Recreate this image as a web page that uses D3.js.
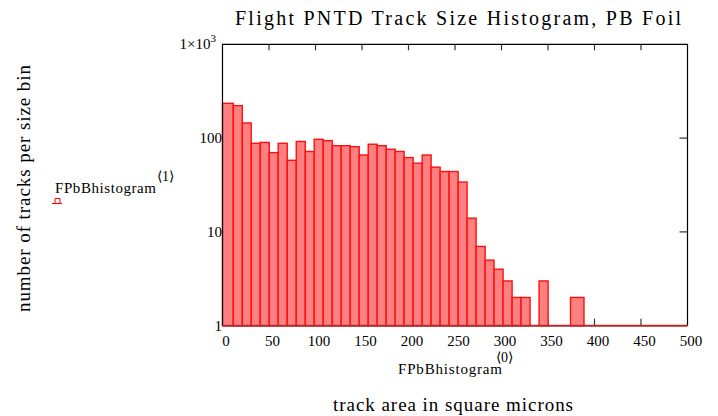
<!DOCTYPE html>
<html>
<head>
<meta charset="utf-8">
<script src="https://cdn.jsdelivr.net/npm/d3@7"></script>
<style>
  html, body { margin: 0; padding: 0; background: #fff; }
  svg { display: block; }
  text { font-family: "Liberation Serif", "Times New Roman", serif; fill: #000; }
</style>
</head>
<body>
<svg id="chart" width="718" height="416"></svg>
<script>
// Histogram bins: lower and upper edge (square microns) and track count per bin
const binLo = [0, 11.6, 21.3, 30.9, 40.6, 50.3, 59.9, 69.6, 79.3, 89.0,
  98.6, 108.3, 118.0, 127.6, 137.3, 147.0, 156.7, 166.3, 176.0, 185.7,
  195.3, 205.0, 214.7, 224.3, 234.0, 243.7, 253.4, 263.0, 272.7, 282.4,
  292.0, 301.7, 311.4, 321.0, 340.4, 374.2];
const binHi = [11.6, 21.3, 30.9, 40.6, 50.3, 59.9, 69.6, 79.3, 89.0, 98.6,
  108.3, 118.0, 127.6, 137.3, 147.0, 156.7, 166.3, 176.0, 185.7, 195.3,
  205.0, 214.7, 224.3, 234.0, 243.7, 253.4, 263.0, 272.7, 282.4, 292.0,
  301.7, 311.4, 321.0, 330.7, 350.1, 388.7];
const tracks = [235, 222, 145, 88, 90, 70, 88, 58, 92, 72,
  97, 94, 83, 83, 81, 66, 86, 83, 76, 72,
  62, 54, 66, 49, 44, 44, 34, 14, 7, 5,
  4, 3, 2, 2, 3, 2];

// Axis ticks
const xTicks = [0, 50, 100, 150, 200, 250, 300, 350, 400, 450, 500];
const yTicks = [1, 10, 100, 1000];
const yTickLabels = ["1", "10", "100", "1×10"];

const svg = d3.select("#chart");
const plotL = 222.5, plotR = 687.5, plotT = 44.3, plotB = 325.7;

const x = d3.scaleLinear().domain([0, 500]).range([plotL, plotR]);
const y = d3.scaleLog().domain([1, 1000]).range([plotB, plotT]);

// Title
svg.append("text")
  .attr("x", 458).attr("y", 25)
  .attr("text-anchor", "middle")
  .attr("textLength", 446).attr("lengthAdjust", "spacing")
  .style("font-size", "20px")
  .text("Flight PNTD Track Size Histogram, PB Foil");

// Y tick labels (drawn first so bars sit on top)
const yl = svg.append("g");
yTicks.forEach((t, i) => {
  const txt = yl.append("text")
    .attr("x", 222).attr("y", y(t) + 5)
    .attr("text-anchor", "end")
    .style("font-size", "15px")
    .text(yTickLabels[i]);
  if (t === 1000) {
    txt.attr("x", 216);
    txt.append("tspan").attr("dy", -7).style("font-size", "11px").text("3");
  }
});

// X axis labels via d3 axis
const xAxis = d3.axisBottom(x).tickValues(xTicks).tickSize(0).tickPadding(10)
  .tickFormat(d3.format("d"));
const gx = svg.append("g").attr("transform", `translate(0,${plotB})`).call(xAxis);
gx.select(".domain").remove();
gx.selectAll("text").style("font-size", "15px").attr("dx", 3)
  .style("font-family", "'Liberation Serif', 'Times New Roman', serif").attr("fill", "#000");

// Frame ticks
const ticks = svg.append("g").attr("stroke", "#333").attr("stroke-width", 1.2);
xTicks.slice(1, -1).forEach(t => {
  ticks.append("line").attr("x1", x(t)).attr("x2", x(t)).attr("y1", plotB).attr("y2", plotB - 7);
  ticks.append("line").attr("x1", x(t)).attr("x2", x(t)).attr("y1", plotT).attr("y2", plotT + 6);
});
yTicks.slice(1, -1).forEach(t => {
  ticks.append("line").attr("x1", plotR).attr("x2", plotR - 8).attr("y1", y(t)).attr("y2", y(t));
  ticks.append("line").attr("x1", plotL).attr("x2", plotL + 8).attr("y1", y(t)).attr("y2", y(t));
});

// Bars
svg.append("g").selectAll("rect")
  .data(tracks)
  .join("rect")
  .attr("x", (d, i) => x(binLo[i]))
  .attr("width", (d, i) => x(binHi[i]) - x(binLo[i]))
  .attr("y", d => y(d))
  .attr("height", d => plotB - y(d))
  .attr("fill", "#ff8080")
  .attr("stroke", "#ff1010")
  .attr("stroke-width", 1.4);

// Plot frame: black left/top/right, dark red base
const frame = svg.append("g").attr("fill", "none");
frame.append("path")
  .attr("d", `M${plotL},${plotB} L${plotL},${plotT} L${plotR},${plotT} L${plotR},${plotB}`)
  .attr("stroke", "#000").attr("stroke-width", 1.2);
frame.append("line")
  .attr("x1", plotL).attr("x2", plotR).attr("y1", plotB).attr("y2", plotB)
  .attr("stroke", "#b22a2a").attr("stroke-width", 2);

// X variable name with superscript column index
svg.append("text").attr("x", 398).attr("y", 374).style("font-size", "15px")
  .attr("textLength", 104).attr("lengthAdjust", "spacing").text("FPbBhistogram");
svg.append("text").attr("x", 496).attr("y", 362).style("font-size", "14px").text("⟨0⟩");

// Y variable name with superscript and trace symbol
svg.append("text").attr("x", 55).attr("y", 193).style("font-size", "15px")
  .attr("textLength", 101).attr("lengthAdjust", "spacing").text("FPbBhistogram");
svg.append("text").attr("x", 157).attr("y", 181).style("font-size", "14px").text("⟨1⟩");
svg.append("path")
  .attr("d", "M52,203.5 L62,203.5 M55,203.5 L55,198.5 L60,198.5 L60,203.5")
  .attr("fill", "none").attr("stroke", "#ff0000").attr("stroke-width", 1);

// Axis titles
svg.append("text")
  .attr("transform", "translate(30,188.5) rotate(-90)")
  .attr("text-anchor", "middle")
  .attr("textLength", 247).attr("lengthAdjust", "spacing")
  .style("font-size", "19px")
  .text("number of tracks per size bin");
svg.append("text")
  .attr("x", 453).attr("y", 411)
  .attr("text-anchor", "middle")
  .attr("textLength", 240).attr("lengthAdjust", "spacing")
  .style("font-size", "19px")
  .text("track area in square microns");
</script>
</body>
</html>
